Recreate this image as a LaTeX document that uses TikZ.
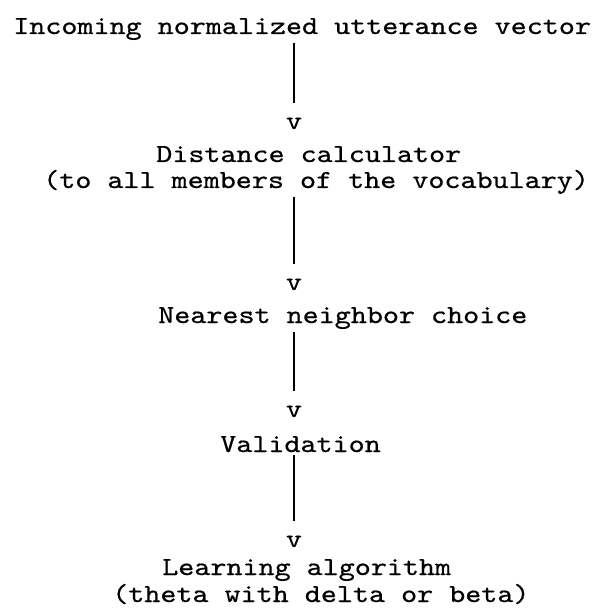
\documentclass[tikz,border=0pt]{standalone}
\usepackage{fontspec}
\newfontfamily\typewriter{lmmono10-regular}[Extension=.otf, FakeStretch=1.175, FakeBold=0.6]
\begin{document}
\begin{tikzpicture}[x=0.025cm, y=-0.025cm,
        every node/.style={font=\fontsize{18.5}{22}\typewriter, inner sep=0pt},
        link/.style={line width=1pt, shorten <=2pt, shorten >=10.3pt}]
        \useasboundingbox (0, 0) rectangle (593, 616);
        \node[anchor=base west] (incoming) at (13, 34) {Incoming normalized utterance vector};
        \node[anchor=base] (v1) at (294, 129) {v};
        \node[anchor=base west] (dist) at (156, 162) {Distance calculator};
        \node[anchor=base west] (distnote) at (43, 188) {(to all members of the vocabulary)};
        \node[anchor=base] (v2) at (294, 290) {v};
        \node[anchor=base west] (nearest) at (158, 323) {Nearest neighbor choice};
        \node[anchor=base] (v3) at (294, 417) {v};
        \node[anchor=base west] (valid) at (220, 452) {Validation};
        \node[anchor=base] (v4) at (294, 547) {v};
        \node[anchor=base west] (learn) at (162, 575) {Learning algorithm};
        \node[anchor=base west] (learnnote) at (112, 602) {(theta with delta or beta)};
        \draw[link] (incoming.south -| v1) -- (v1.north);
        \draw[link] (distnote.south -| v2) -- (v2.north);
        \draw[link] (nearest.south -| v3) -- (v3.north);
        \draw[link] (valid.south -| v4) -- (v4.north);
    \end{tikzpicture}
\end{document}
